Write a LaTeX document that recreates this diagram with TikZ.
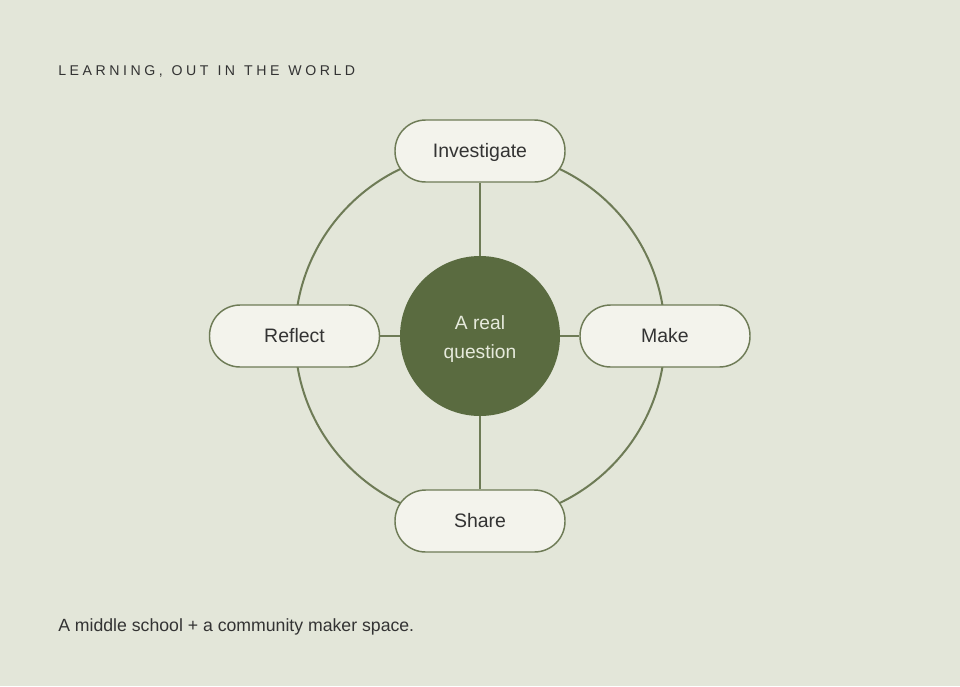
\documentclass[tikz,border=0pt]{standalone}
\usepackage{fontspec}
\setmainfont{Liberation Sans}
\newfontfamily\spacedfont[LetterSpace=25,WordSpace=1.2]{Liberation Sans}
\usetikzlibrary{positioning}
\definecolor{paperbg}{HTML}{E3E6D9}
\definecolor{pillfill}{HTML}{F3F3EC}
\definecolor{olivedark}{HTML}{5A6B40}
\definecolor{oliveline}{HTML}{6E7B56}
\definecolor{inkgray}{HTML}{333333}
\definecolor{centertext}{HTML}{E6EADC}

\tikzset{
  stagepill/.style={draw=oliveline,fill=pillfill,line width=1.1pt,rounded corners=23pt,
    minimum width=127.5pt,minimum height=46.5pt,inner sep=0pt,text=inkgray,
    text height=10.4pt,text depth=0pt,font=\fontsize{14.6pt}{17pt}\selectfont},
  hubdot/.style={circle,fill=olivedark,minimum size=120pt,inner sep=0pt,text=centertext,
    align=center,font=\fontsize{14.4pt}{21.3pt}\selectfont},
  spoke/.style={draw=oliveline,line width=1.5pt}
}

\begin{document}
\begin{tikzpicture}[x=0.75pt,y=-0.75pt]
  \fill[paperbg](0,0)rectangle(960,686);
  \coordinate (hub) at (480,336);
  % ring behind the four stages
  \draw[spoke] (hub) circle[radius=138.75pt];
  \node[hubdot] (question) at (hub) {\rule{0pt}{15pt}A real\\question};
  \foreach \name/\x/\y/\txt in {investigate/480/151/Investigate,make/665/336/Make,share/480/521/Share,reflect/294.5/336/Reflect}{
    \node[stagepill] (\name) at (\x,\y) {\txt};
    \draw[spoke] (question) -- (\name);
  }
  \node[anchor=base west,inner sep=0pt,text=inkgray,font=\fontsize{10.6pt}{12pt}\spacedfont] (title) at (58,75) {LEARNING, OUT IN THE WORLD};
  \node[anchor=base west,inner sep=0pt,text=inkgray,font=\fontsize{13.25pt}{15pt}\selectfont] (caption) at (58,631) {A middle school + a community maker space.};
\end{tikzpicture}
\end{document}
